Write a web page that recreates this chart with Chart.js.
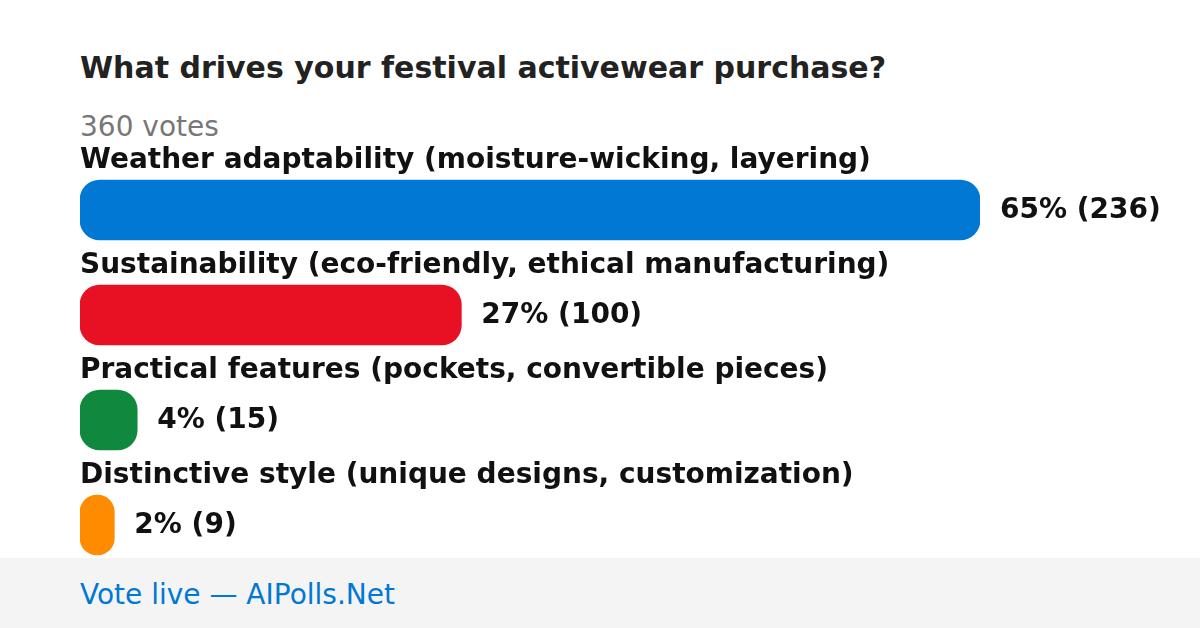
<!DOCTYPE html>
<html>
<head>
<meta charset="utf-8">
<script src="https://cdn.jsdelivr.net/npm/chart.js@4.4.1/dist/chart.umd.min.js"></script>
<style>
  html, body { margin: 0; padding: 0; background: #fff; }
  body { width: 1200px; height: 628px; position: relative; overflow: hidden; font-family: "DejaVu Sans", sans-serif; }
  .txt { position: absolute; left: 80px; line-height: 1; white-space: nowrap; margin: 0; }
  #title  { top: 52.6px; font-size: 30px; font-weight: bold; color: #222; }
  #votes  { top: 113px; font-size: 28px; color: #777; }
  #footer { position: absolute; left: 0; top: 558px; width: 1200px; height: 70px; background: #f4f4f4; }
  #footer span { position: absolute; left: 80px; top: 23px; font-size: 28px; line-height: 1; color: #0078d4; }
  #poll { position: absolute; left: 0; top: 0; z-index: 1; }
</style>
</head>
<body>
<h1 class="txt" id="title">What drives your festival activewear purchase?</h1>
<div class="txt" id="votes">360 votes</div>
<div id="footer"><span>Vote live — AIPolls.Net</span></div>
<canvas id="poll" width="1200" height="628"></canvas>

<script>
// ─────────────────────────────────────────────
// Poll data
// ─────────────────────────────────────────────
const OPTIONS = [
  "Weather adaptability (moisture-wicking, layering)",
  "Sustainability (eco-friendly, ethical manufacturing)",
  "Practical features (pockets, convertible pieces)",
  "Distinctive style (unique designs, customization)",
];
const VOTES    = [236, 100, 15, 9];
const PERCENTS = [65, 27, 4, 2];
const COLORS   = ["#0078d4", "#e81123", "#10893e", "#ff8c00"];

// ─────────────────────────────────────────────
// Plugin: option name above each bar, "pct% (votes)" after it
// ─────────────────────────────────────────────
const pollLabels = {
  id: "pollLabels",
  afterDatasetsDraw(chart) {
    const { ctx } = chart;
    const bars = chart.getDatasetMeta(0).data;
    ctx.save();
    ctx.font = "bold 28px 'DejaVu Sans'";
    ctx.fillStyle = "#111";
    ctx.textAlign = "left";
    ctx.textBaseline = "alphabetic";
    bars.forEach((bar, i) => {
      const top = bar.y - bar.height / 2;
      ctx.fillText(OPTIONS[i], chart.chartArea.left, top - 12);
      ctx.fillText(`${PERCENTS[i]}% (${VOTES[i]})`, bar.x + 20, bar.y + 8);
    });
    ctx.restore();
  }
};

new Chart(document.getElementById("poll"), {
  type: "bar",
  data: {
    labels: OPTIONS,
    datasets: [{
      data:            VOTES,
      backgroundColor: COLORS,
      borderRadius:    20,
      borderSkipped:   false,
      barThickness:    60,
    }]
  },
  options: {
    indexAxis: "y",
    responsive: false,
    animation: false,
    devicePixelRatio: 1,
    layout: { padding: { left: 80, right: 220, top: 157.5, bottom: 50.5 } },
    plugins: { legend: { display: false }, tooltip: { enabled: false } },
    scales: {
      x: { display: false, min: 0, max: Math.max(...VOTES) },
      y: { display: false },
    }
  },
  plugins: [pollLabels]
});
</script>
</body>
</html>
